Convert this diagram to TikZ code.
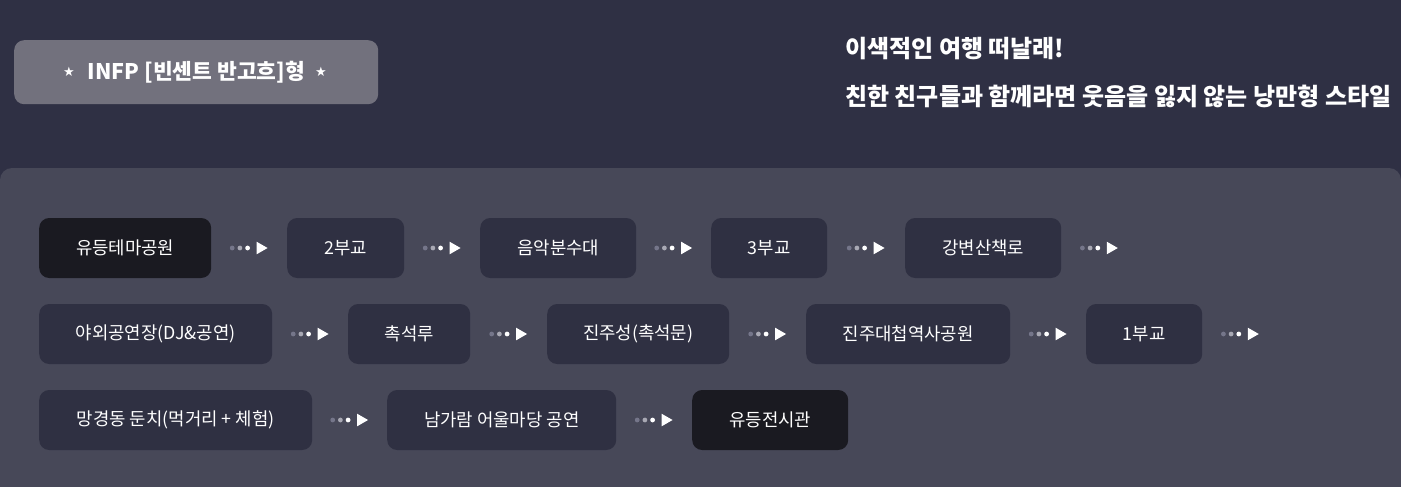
\documentclass[tikz,border=0pt]{standalone}
\usepackage{fontspec}
\setmainfont{Noto Sans CJK KR}
\newfontfamily\kr{Noto Sans CJK KR}
\newfontfamily\symf{DejaVu Sans}
\usetikzlibrary{positioning,calc}
\definecolor{topbg}{HTML}{2F3044}
\definecolor{panelbg}{HTML}{474858}
\definecolor{boxbg}{HTML}{2F3042}
\definecolor{darkbox}{HTML}{1A1A21}
\definecolor{badge}{HTML}{72717D}
\definecolor{dotA}{HTML}{75768A}
\definecolor{dotB}{HTML}{A9A9B4}
\tikzset{
  stop/.style={rounded corners=10pt, fill=boxbg, minimum height=60pt, inner sep=0pt,
    anchor=west, text=white, font=\kr\fontsize{17.8}{21}\selectfont},
  darkstop/.style={stop, fill=darkbox},
  flowarr/.pic={
    \fill[dotA] (-17,0) circle (2.4);
    \fill[dotB] (-9.3,0) circle (2.4);
    \fill[white] (-1.6,0) circle (2.4);
    \fill[white] (7.4,-6.3) -- (18.4,0) -- (7.4,6.3) -- cycle;
  },
  headline/.style={anchor=west, text=white, inner sep=0pt, font=\kr\bfseries\fontsize{24}{28}\selectfont},
  starmark/.style={text=white, font=\symf\fontsize{13}{15}\selectfont, inner sep=0pt},
}
\begin{document}
\begin{tikzpicture}[x=1pt,y=-1pt]
\useasboundingbox (0,0) rectangle (1401,487);
\fill[topbg] (0,0) rectangle (1401,487);
\fill[panelbg, rounded corners=12pt] (0,168) rectangle (1401,520);
% badge
\node[fill=badge, rounded corners=10pt, minimum width=364pt, minimum height=64pt, inner sep=0pt, anchor=north west] (badge) at (14,40) {};
\node[text=white, font=\kr\bfseries\fontsize{21.5}{25}\selectfont, inner sep=0pt] (title) at (196.5,72) {INFP [빈센트 반고흐]형};
\node[starmark] (starL) at (69,72) {★};
\node[starmark] (starR) at (321,72) {★};
% headline
\node[headline] (h1) at (845,49) {이색적인 여행 떠날래!};
\node[headline] (h2) at (845,96) {친한 친구들과 함께라면 웃음을 잃지 않는 낭만형 스타일};
% row 1
\node[darkstop, minimum width=172pt] (r1a) at (39,248) {유등테마공원};
\node[stop, minimum width=117pt] (r1b) at (287,248) {2부교};
\node[stop, minimum width=156pt] (r1c) at (480,248) {음악분수대};
\node[stop, minimum width=116pt] (r1d) at (711,248) {3부교};
\node[stop, minimum width=156pt] (r1e) at (905,248) {강변산책로};
\coordinate (r1end) at ($(r1e.east)+(76,0)$);
% row 2
\node[stop, minimum width=233pt] (r2a) at (39,334) {야외공연장(DJ\&공연)};
\node[stop, minimum width=122pt] (r2b) at (348,334) {촉석루};
\node[stop, minimum width=182pt] (r2c) at (547,334) {진주성(촉석문)};
\node[stop, minimum width=204pt] (r2d) at (806,334) {진주대첩역사공원};
\node[stop, minimum width=116pt] (r2e) at (1086,334) {1부교};
\coordinate (r2end) at ($(r2e.east)+(76,0)$);
% row 3
\node[stop, minimum width=273pt] (r3a) at (39,420) {망경동 둔치(먹거리 + 체험)};
\node[stop, minimum width=229pt] (r3b) at (387,420) {남가람 어울마당 공연};
\node[darkstop, minimum width=156pt] (r3c) at (692,420) {유등전시관};
% connectors
\foreach \a/\b [count=\i] in {r1a/r1b, r1b/r1c, r1c/r1d, r1d/r1e, r1e/r1end,
  r2a/r2b, r2b/r2c, r2c/r2d, r2d/r2e, r2e/r2end, r3a/r3b, r3b/r3c}{
  \path (\a.east) -- (\b.west) coordinate[midway] (m\i);
  \pic at (m\i) {flowarr};
}
\end{tikzpicture}
\end{document}
